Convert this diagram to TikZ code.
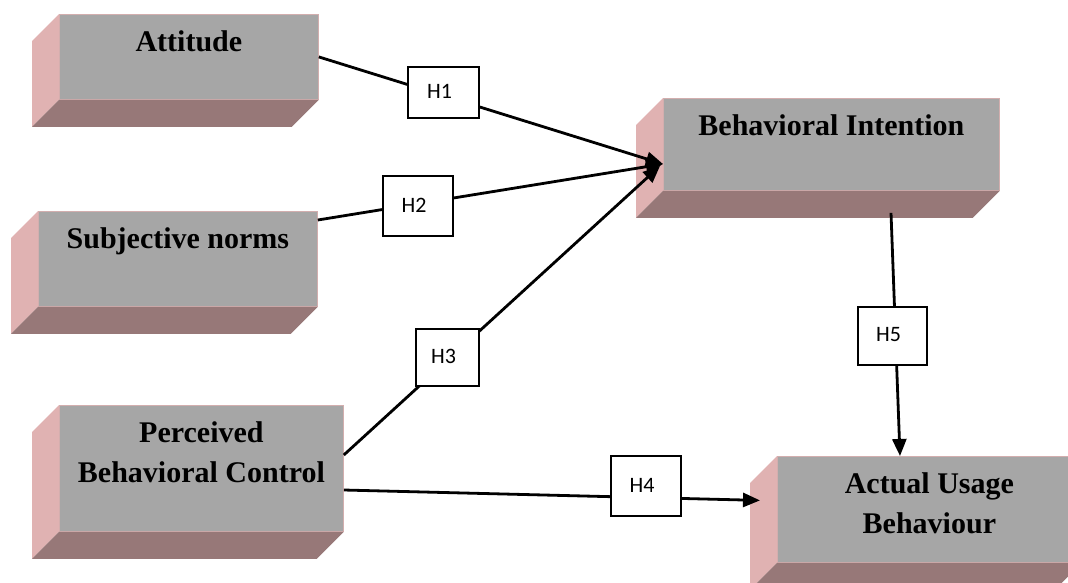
\documentclass[tikz,border=0pt]{standalone}
\usepackage{fontspec}
\setmainfont{Liberation Serif}
\newfontfamily\hfont{Carlito}
\usetikzlibrary{calc,arrows.meta}
\definecolor{facegray}{HTML}{A6A6A6}
\definecolor{sidepink}{HTML}{E0B2B2}
\definecolor{bottombrown}{HTML}{977878}
\definecolor{edgepink}{HTML}{D2AEAE}
\tikzset{
  front/.style={rectangle, anchor=north west, fill=facegray, draw=edgepink, line width=0.8pt, inner sep=0pt},
  boxtext/.style={anchor=north, inner sep=0pt, align=center, font=\fontsize{30}{40}\selectfont\bfseries, yshift=-9pt},
  hbox/.style={rectangle, draw=black, line width=1.3pt, fill=white, inner sep=0pt},
  htext/.style={font=\hfont\fontsize{22}{26}\selectfont, xshift=-4pt, yshift=1pt},
  conn/.style={line width=2.8pt, black},
  arr/.style={conn, -{Triangle[length=17pt,width=14pt]}},
}
\newcommand\solidsides[1]{%
  \fill[sidepink] (#1.north west) -- ++(-27,27) -- ($(#1.south west)+(-27,27)$) -- (#1.south west) -- cycle;
  \fill[bottombrown] (#1.south west) -- (#1.south east) -- ++(-27,27) -- ($(#1.south west)+(-27,27)$) -- cycle;}
\begin{document}
\begin{tikzpicture}[x=1pt, y=-1pt]
\useasboundingbox (0,0) rectangle (1068,582);
\clip (0,0) rectangle (1068,582);
% 3D boxes (front faces)
\node[front, minimum width=259pt, minimum height=85pt, label={[boxtext]north:{\strut Attitude}}] (att) at (59,14) {};
\node[front, minimum width=279pt, minimum height=95pt, label={[boxtext]north:{\strut Subjective norms}}] (subj) at (38,211) {};
\node[front, minimum width=284pt, minimum height=126pt, label={[boxtext]north:{\strut Perceived\\Behavioral Control}}] (pbc) at (59,405) {};
\node[front, minimum width=336pt, minimum height=92pt, label={[boxtext]north:{\strut Behavioral Intention}}] (bi) at (663,98) {};
\node[front, minimum width=304pt, minimum height=106pt, label={[boxtext]north:{\strut Actual Usage\\Behaviour}}] (au) at (777,456) {};
\solidsides{att}
\solidsides{subj}
\solidsides{pbc}
\solidsides{bi}
\solidsides{au}
% connectors
\coordinate (bitip) at ($(bi.north west)+(0,66)$);
\draw[arr] (att.east) -- (bitip);
\draw[arr] ($(subj.north east)+(0,9)$) -- (bitip);
\draw[arr] ($(pbc.north east)+(0,50)$) -- ($(bitip)+(-3,2)$);
\draw[arr] ($(pbc.north east)+(0,85)$) -- ($(au.west)+(-17,-9)$);
\draw[arr] ($(bi.south west)+(228,22)$) -- ($(au.north west)+(123,0)$);
% hypothesis labels
\node[hbox, minimum width=71pt, minimum height=51pt, label={[htext]center:H1}] (h1) at (443.5,92.5) {};
\node[hbox, minimum width=70pt, minimum height=60pt, label={[htext]center:H2}] (h2) at (418,206) {};
\node[hbox, minimum width=63pt, minimum height=57pt, label={[htext]center:H3}] (h3) at (447.5,357.5) {};
\node[hbox, minimum width=70pt, minimum height=60pt, label={[htext]center:H4}] (h4) at (646,486) {};
\node[hbox, minimum width=69pt, minimum height=58pt, label={[htext]center:H5}] (h5) at (892.5,336) {};
\end{tikzpicture}
\end{document}
